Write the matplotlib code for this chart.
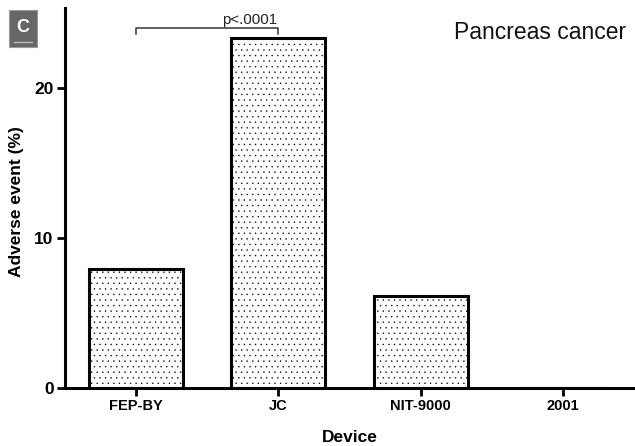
import matplotlib
matplotlib.use("Agg")
import matplotlib.pyplot as plt
from matplotlib.patches import Rectangle

plt.rcParams['font.family'] = ['Liberation Sans', 'DejaVu Sans']
plt.rcParams['hatch.linewidth'] = 0.25
plt.rcParams['hatch.color'] = '#666666'

devices = ["FEP-BY", "JC", "NIT-9000", "2001"]
adverse = [7.9, 23.3, 6.1, 0.0]
yticks = [0, 10, 20]
pvalue_text = "p<.0001"

fig = plt.figure(figsize=(6.35, 4.46), dpi=100)
ax = fig.add_axes([0.102, 0.130, 0.897, 0.852])

x = list(range(len(devices)))
ax.bar(x, adverse, width=0.66, color='white', edgecolor='black',
       linewidth=2.2, hatch='...', zorder=2)

ax.set_xlim(-0.5, 3.5)
ax.set_ylim(0, 25.3)
ax.set_xticks(x)
ax.set_xticklabels(devices, fontsize=10.5, fontweight='bold')
ax.set_yticks(yticks)
ax.set_yticklabels([str(v) for v in yticks], fontsize=12.5, fontweight='bold')
ax.tick_params(axis='both', direction='out', length=6, width=2, pad=2)
for s in ['top', 'right']:
    ax.spines[s].set_visible(False)
for s in ['left', 'bottom']:
    ax.spines[s].set_linewidth(2.2)

ax.set_xlabel("Device", fontsize=12.5, fontweight='bold', labelpad=12)
ax.set_ylabel("Adverse event (%)", fontsize=12.5, fontweight='bold')
ax.yaxis.set_label_coords(-0.071, 0.49)

# significance bracket
yb = 24.0
ax.plot([0, 0, 1, 1], [yb - 0.45, yb, yb, yb - 0.45], color='#333333',
        lw=1.1, clip_on=False)
ax.text(0.8, yb + 0.05, pvalue_text, ha='center', va='bottom', fontsize=10.8,
        color='#222222')

ax.text(0.985, 0.935, "Pancreas cancer", transform=ax.transAxes, ha='right',
        va='center', fontsize=16.5, color='#111111')

# panel label box
box = Rectangle((9 / 635, 1 - 47 / 446), 28 / 635, 37 / 446,
                transform=fig.transFigure, facecolor='#666666',
                edgecolor='#999999', lw=0.8)
fig.patches.append(box)
fig.text(23 / 635, 1 - 28 / 446, "C", ha='center', va='center', fontsize=13,
         fontweight='bold', color='white')
fig.lines.append(plt.Line2D([14 / 635, 32 / 635], [1 - 42 / 446, 1 - 42 / 446],
                            transform=fig.transFigure, color='#bbbbbb', lw=1))

fig.savefig("out.png", dpi=100)
